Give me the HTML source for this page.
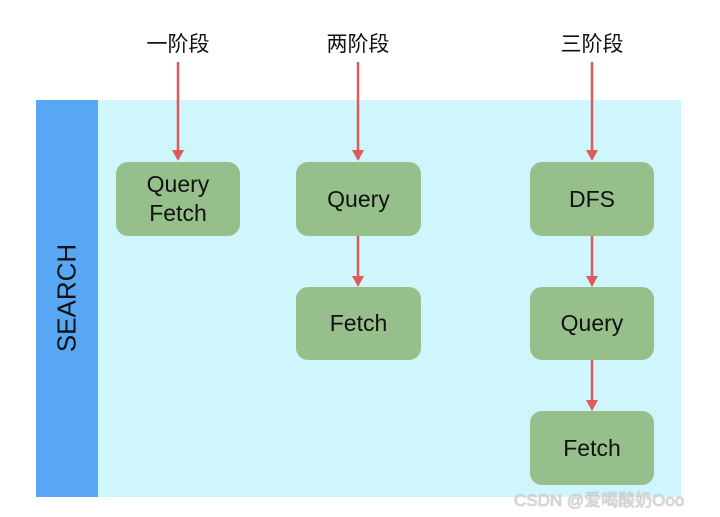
<!DOCTYPE html>
<html><head><meta charset="utf-8"><style>
body{margin:0;width:720px;height:517px;background:#fff;position:relative;overflow:hidden;font-family:"Liberation Sans","Noto Sans CJK SC",sans-serif}
.a{position:absolute}
.box{position:absolute;background:#97bf8c;border-radius:12px;display:flex;align-items:center;justify-content:center;text-align:center;font-size:23px;color:#111;line-height:29px}
.lbl{position:absolute;font-size:21px;color:#111;width:120px;text-align:center;top:28px}
</style></head><body>
<div class="a" style="left:36px;top:100px;width:645px;height:397px;background:#cff6fd"></div>
<div class="a" style="left:36px;top:100px;width:62px;height:397px;background:#57a7f5"></div>
<div class="a" style="left:67px;top:298px;transform:translate(-50%,-50%) rotate(-90deg);font-size:26px;color:#111;white-space:nowrap">SEARCH</div>
<div class="lbl" style="left:118px">一阶段</div>
<div class="lbl" style="left:298px">两阶段</div>
<div class="lbl" style="left:532px">三阶段</div>
<svg class="a" style="left:0;top:0" width="720" height="517">
<g stroke="#e15a5a" stroke-width="2.5" fill="none">
<line x1="178" y1="62" x2="178" y2="152"/><line x1="358" y1="62" x2="358" y2="152"/><line x1="592" y1="62" x2="592" y2="152"/>
<line x1="358" y1="236" x2="358" y2="278"/><line x1="592" y1="236" x2="592" y2="278"/><line x1="592" y1="360" x2="592" y2="402"/>
</g>
<g fill="#e15a5a">
<polygon points="172,150 184,150 178,161"/><polygon points="352,150 364,150 358,161"/><polygon points="586,150 598,150 592,161"/>
<polygon points="352,276 364,276 358,287"/><polygon points="586,276 598,276 592,287"/><polygon points="586,400 598,400 592,411"/>
</g></svg>
<div class="box" style="left:116px;top:162px;width:124px;height:74px">Query<br>Fetch</div>
<div class="box" style="left:296px;top:162px;width:125px;height:74px">Query</div>
<div class="box" style="left:296px;top:287px;width:125px;height:73px">Fetch</div>
<div class="box" style="left:530px;top:162px;width:124px;height:74px">DFS</div>
<div class="box" style="left:530px;top:287px;width:124px;height:73px">Query</div>
<div class="box" style="left:530px;top:411px;width:124px;height:74px">Fetch</div>
<div class="a" style="left:514px;top:486px;font-size:17px;color:#d8d8d8;text-shadow:0 0 1px #888;white-space:nowrap">CSDN @爱喝酸奶Ooo</div>
</body></html>
